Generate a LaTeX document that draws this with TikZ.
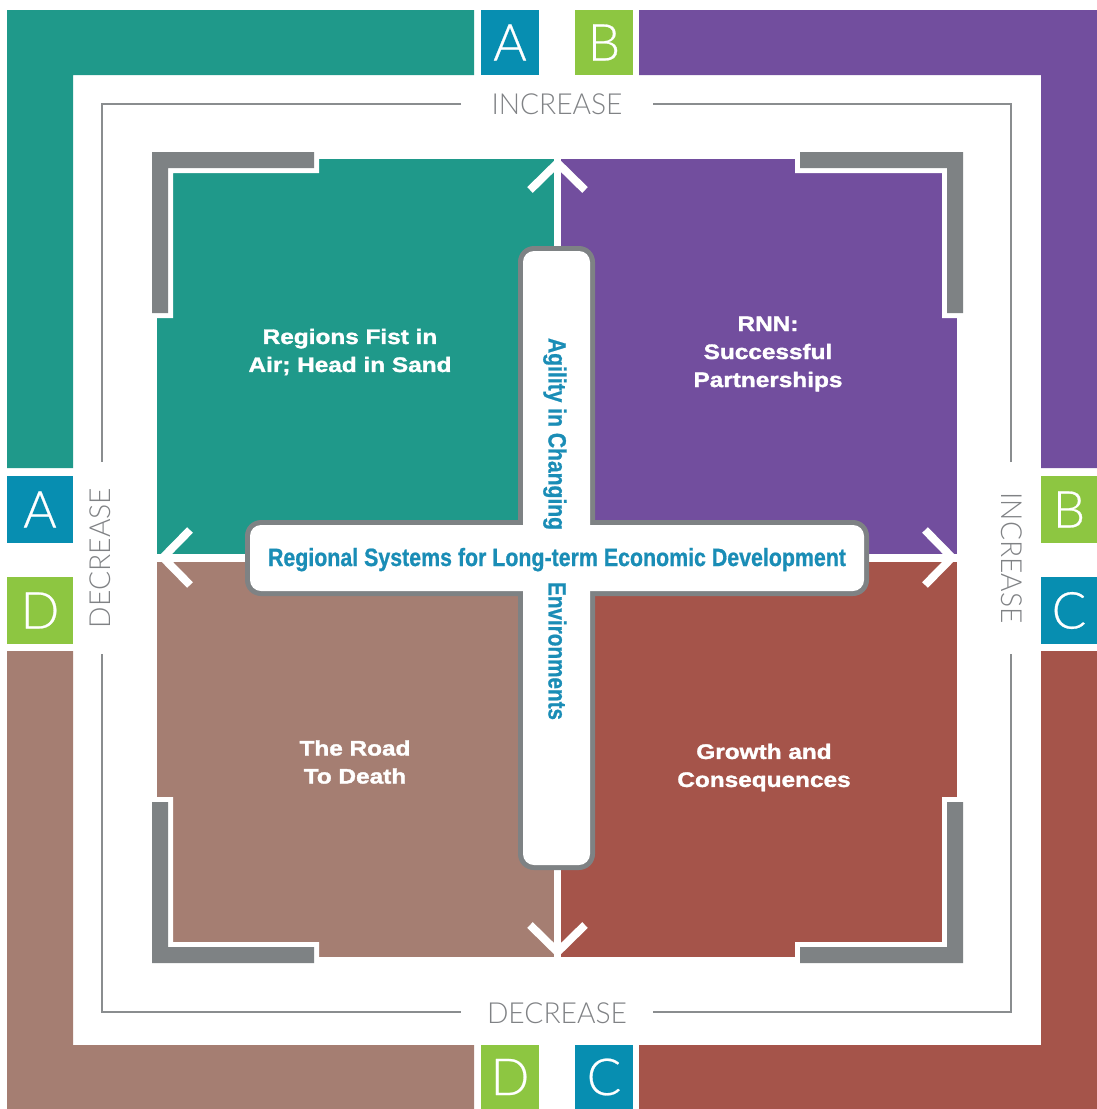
\documentclass[tikz,border=0pt]{standalone}
\usepackage{fontspec}
\usepackage{graphicx}
\setmainfont{Liberation Sans}
\newfontfamily\lightfont[FakeBold=0.5]{Lato Light}
\newfontfamily\axisfont{Lato Light}
\newfontfamily\quadfont[FakeStretch=1.16,FakeBold=1.6]{Liberation Sans}
\newfontfamily\crossfont[FakeBold=0.9]{Liberation Sans}
\definecolor{cteal}{HTML}{1F998A}
\definecolor{cpurple}{HTML}{724E9E}
\definecolor{cbrown}{HTML}{A57E72}
\definecolor{cred}{HTML}{A5544A}
\definecolor{cblue}{HTML}{078EB1}
\definecolor{cgreen}{HTML}{8DC641}
\definecolor{cgray}{HTML}{7E8284}
\definecolor{cline}{HTML}{8A8D8F}
\definecolor{caxis}{HTML}{808285}
\definecolor{ctext}{HTML}{1A8DB6}
\tikzset{
  letterbox/.style n args={3}{fill=#1, minimum width=#2, minimum height=#3, inner sep=0pt, outer sep=0pt, text=white, font=\lightfont\fontsize{51}{51}\selectfont},
  axislabel/.style={text=caxis, inner sep=0pt, font=\axisfont\fontsize{29}{29}\selectfont},
  frameline/.style={draw=cline, line width=1.6pt},
  chevron/.style={draw=white, line width=8pt, miter limit=10},
  quadlabel/.style={text=white, align=center, inner sep=0pt, font=\quadfont\bfseries\fontsize{21}{28}\selectfont},
  crosstext/.style={text=ctext, inner sep=0pt, font=\crossfont\bfseries\fontsize{25}{25}\selectfont},
  halo/.style={fill=white},
  bracket/.style={fill=cgray},
}
\begin{document}
\begin{tikzpicture}[x=1pt,y=-1pt]
\useasboundingbox (0,0) rectangle (1097,1109);
% outer bands
\fill[cteal] (7,10) -- (474,10) -- (474,75) -- (73,75) -- (73,468) -- (7,468) -- cycle;
\fill[cpurple] (639,10) -- (1097,10) -- (1097,468) -- (1041,468) -- (1041,75) -- (639,75) -- cycle;
\fill[cbrown] (7,651) -- (73,651) -- (73,1045) -- (474,1045) -- (474,1109) -- (7,1109) -- cycle;
\fill[cred] (1041,651) -- (1097,651) -- (1097,1109) -- (639,1109) -- (639,1045) -- (1041,1045) -- cycle;
% letter boxes
\node[letterbox={cblue}{58pt}{65pt}] (tA) at (510,42.5) {A};
\node[letterbox={cgreen}{58pt}{65pt}] (tB) at (604,42.5) {B};
\node[letterbox={cblue}{66pt}{67pt}] (lA) at (40,509.5) {A};
\node[letterbox={cgreen}{66pt}{67pt}] (lD) at (40,610.5) {D};
\node[letterbox={cgreen}{56pt}{67pt}] (rB) at (1069,509.5) {B};
\node[letterbox={cblue}{56pt}{67pt}] (rC) at (1069,610.5) {C};
\node[letterbox={cgreen}{58pt}{64pt}] (bD) at (510,1077) {D};
\node[letterbox={cblue}{58pt}{64pt}] (bC) at (604,1077) {C};
% thin frame
\draw[frameline] (461,104) -- (102,104) -- (102,462);
\draw[frameline] (102,654) -- (102,1012) -- (461,1012);
\draw[frameline] (653,1012) -- (1011,1012) -- (1011,654);
\draw[frameline] (1011,462) -- (1011,104) -- (653,104);
\node[axislabel] (incT) at (557,104) {\resizebox{131pt}{\height}{INCREASE}};
\node[axislabel] (decB) at (557,1013) {\resizebox{140pt}{\height}{DECREASE}};
\node[axislabel, rotate=90] (decL) at (100,558) {\resizebox{140pt}{\height}{DECREASE}};
\node[axislabel, rotate=-90] (incR) at (1012,558) {\resizebox{131pt}{\height}{INCREASE}};
% quadrants
\fill[cteal] (157,159) rectangle (557,558);
\fill[cpurple] (557,159) rectangle (957,558);
\fill[cbrown] (157,558) rectangle (557,957);
\fill[cred] (557,558) rectangle (957,957);
\draw[white, line width=7pt] (557.5,159) -- (557.5,957);
\draw[white, line width=8pt] (157,557.5) -- (957,557.5);
% chevrons
\draw[chevron] (530,190) -- (557.5,163) -- (585,190);
\draw[chevron] (190,530) -- (163,557.5) -- (190,585);
\draw[chevron] (925,530) -- (952,557.5) -- (925,585);
\draw[chevron] (530,925) -- (557.5,952) -- (585,925);
% corner brackets
\fill[halo] (147,147) -- (319,147) -- (319,173) -- (173,173) -- (173,318) -- (147,318) -- cycle;
\fill[bracket] (152,152) -- (314,152) -- (314,168) -- (168,168) -- (168,313) -- (152,313) -- cycle;
\fill[halo] (795,147) -- (968,147) -- (968,318) -- (942,318) -- (942,173) -- (795,173) -- cycle;
\fill[bracket] (800,152) -- (963,152) -- (963,313) -- (947,313) -- (947,168) -- (800,168) -- cycle;
\fill[halo] (147,797) -- (173,797) -- (173,942) -- (319,942) -- (319,968) -- (147,968) -- cycle;
\fill[bracket] (152,802) -- (168,802) -- (168,947) -- (314,947) -- (314,963) -- (152,963) -- cycle;
\fill[halo] (942,797) -- (968,797) -- (968,968) -- (795,968) -- (795,942) -- (942,942) -- cycle;
\fill[bracket] (947,802) -- (963,802) -- (963,963) -- (800,963) -- (800,947) -- (947,947) -- cycle;
% quadrant labels
\node[quadlabel] (qA) at (350,352) {Regions Fist in\\Air; Head in Sand};
\node[quadlabel] (qB) at (768,354) {RNN:\\Successful\\Partnerships};
\node[quadlabel] (qD) at (355,762) {The Road\\To Death};
\node[quadlabel] (qC) at (764,767.5) {Growth and\\Consequences};
% central cross
\fill[cgray, rounded corners=16pt] (245,520) rectangle (869,596);
\fill[cgray, rounded corners=16pt] (518,246) rectangle (595,870);
\fill[white, rounded corners=11pt] (250,525) rectangle (864,591);
\fill[white, rounded corners=11pt] (523,251) rectangle (590,865);
\node[crosstext, anchor=base] (hx) at (557,566) {\resizebox{578pt}{\height}{Regional Systems for Long-term Economic Development}};
\node[crosstext, rotate=-90, anchor=base] (vt) at (548.5,434) {\resizebox{192pt}{\height}{Agility in Changing}};
\node[crosstext, rotate=-90, anchor=base] (vb) at (548.5,651) {\resizebox{138pt}{\height}{Environments}};
\end{tikzpicture}
\end{document}
